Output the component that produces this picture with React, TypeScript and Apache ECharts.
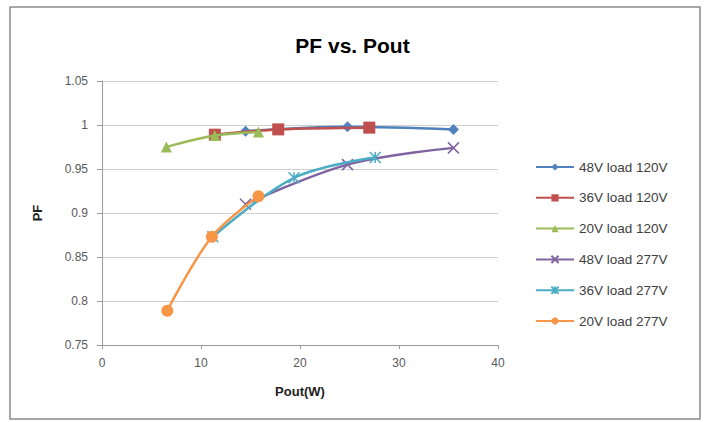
import React, { useEffect, useRef } from "react";
import * as echarts from "echarts";

const seriesNames = [
  "48V load 120V",
  "36V load 120V",
  "20V load 120V",
  "48V load 277V",
  "36V load 277V",
  "20V load 277V",
];

const pout48v120 = [14.5, 24.8, 35.5];
const pf48v120 = [0.993, 0.998, 0.995];
const pout36v120 = [11.4, 17.8, 27.0];
const pf36v120 = [0.989, 0.995, 0.997];
const pout20v120 = [6.5, 11.4, 15.8];
const pf20v120 = [0.975, 0.988, 0.992];
const pout48v277 = [14.5, 24.8, 35.5];
const pf48v277 = [0.91, 0.955, 0.974];
const pout36v277 = [11.2, 19.4, 27.6];
const pf36v277 = [0.873, 0.94, 0.963];
const pout20v277 = [6.6, 11.1, 15.8];
const pf20v277 = [0.789, 0.873, 0.919];

const colors = ["#4F81BD", "#C0504D", "#9BBB59", "#8064A2", "#4BACC6", "#F79646"];
const xTicks = [0, 10, 20, 30, 40];
const yTicks = [0.75, 0.8, 0.85, 0.9, 0.95, 1, 1.05];

const X_SYM = "path://M0,0L10,10M10,0L0,10";
const STAR_SYM = "path://M0,0L10,10M10,0L0,10M5,0L5,10";

const pairs = (xs: number[], ys: number[]) => xs.map((x, i) => [x, ys[i]]);

export default function App() {
  const ref = useRef<HTMLDivElement>(null);
  useEffect(() => {
    if (!ref.current) return;
    const chart = echarts.init(ref.current, undefined, { renderer: "svg" });
    const data = [
      pairs(pout48v120, pf48v120),
      pairs(pout36v120, pf36v120),
      pairs(pout20v120, pf20v120),
      pairs(pout48v277, pf48v277),
      pairs(pout36v277, pf36v277),
      pairs(pout20v277, pf20v277),
    ];
    const symbols = ["diamond", "rect", "triangle", X_SYM, STAR_SYM, "circle"];
    const sizes = [11, 12, 11, 11, 11, 12];
    const font = "'Liberation Sans', Arial, sans-serif";
    chart.setOption({
      animation: false,
      backgroundColor: "#ffffff",
      color: colors,
      title: {
        text: "PF vs. Pout",
        left: "center",
        top: 30,
        textStyle: { fontSize: 21, fontWeight: "bold", color: "#000", fontFamily: font },
      },
      graphic: [
        {
          type: "rect",
          shape: { x: 10, y: 7, width: 690, height: 412 },
          style: { fill: "none", stroke: "#8c8c8c", lineWidth: 1.5 },
          silent: true,
        },
      ],
      legend: {
        orient: "vertical",
        left: 530,
        top: 155,
        itemWidth: 38,
        itemHeight: 9,
        itemGap: 16.8,
        textStyle: { fontSize: 13.5, color: "#404040", fontFamily: font },
        data: seriesNames,
      },
      grid: { left: 102, right: 207, top: 81, bottom: 77, containLabel: false },
      xAxis: {
        type: "value",
        min: xTicks[0],
        max: xTicks[xTicks.length - 1],
        interval: 10,
        name: "Pout(W)",
        nameLocation: "middle",
        nameGap: 40,
        nameTextStyle: { fontSize: 13, fontWeight: "bold", color: "#222", fontFamily: font },
        axisLine: { show: true, lineStyle: { color: "#9a9a9a" } },
        axisTick: { show: true, length: 4, lineStyle: { color: "#9a9a9a" } },
        axisLabel: { fontSize: 12, color: "#595959", margin: 12, fontFamily: font },
        splitLine: { show: false },
      },
      yAxis: {
        type: "value",
        min: yTicks[0],
        max: yTicks[yTicks.length - 1],
        interval: 0.05,
        name: "PF",
        nameLocation: "middle",
        nameGap: 58,
        nameRotate: 90,
        nameTextStyle: { fontSize: 13, fontWeight: "bold", color: "#222", fontFamily: font },
        axisLine: { show: true, lineStyle: { color: "#9a9a9a" } },
        axisTick: { show: true, length: 5, lineStyle: { color: "#9a9a9a" } },
        axisLabel: {
          fontSize: 12,
          color: "#595959",
          margin: 14,
          fontFamily: font,
          formatter: (v: number) => String(parseFloat(v.toFixed(2))),
        },
        splitLine: { show: true, lineStyle: { color: "#d0d0d0", width: 1 } },
      },
      series: seriesNames.map((name, i) => ({
        name,
        type: "line",
        data: data[i],
        smooth: 0.35,
        symbol: symbols[i],
        symbolSize: sizes[i],
        showAllSymbol: true,
        lineStyle: { width: 2.5, color: colors[i] },
        itemStyle:
          i === 3 || i === 4
            ? { color: colors[i], borderColor: colors[i], borderWidth: 1.5 }
            : { color: colors[i] },
        z: 2 + i,
      })),
    });
    return () => chart.dispose();
  }, []);
  return (
    <div
      ref={ref}
      style={{ position: "fixed", left: 0, top: 0, width: 705, height: 422 }}
    />
  );
}
